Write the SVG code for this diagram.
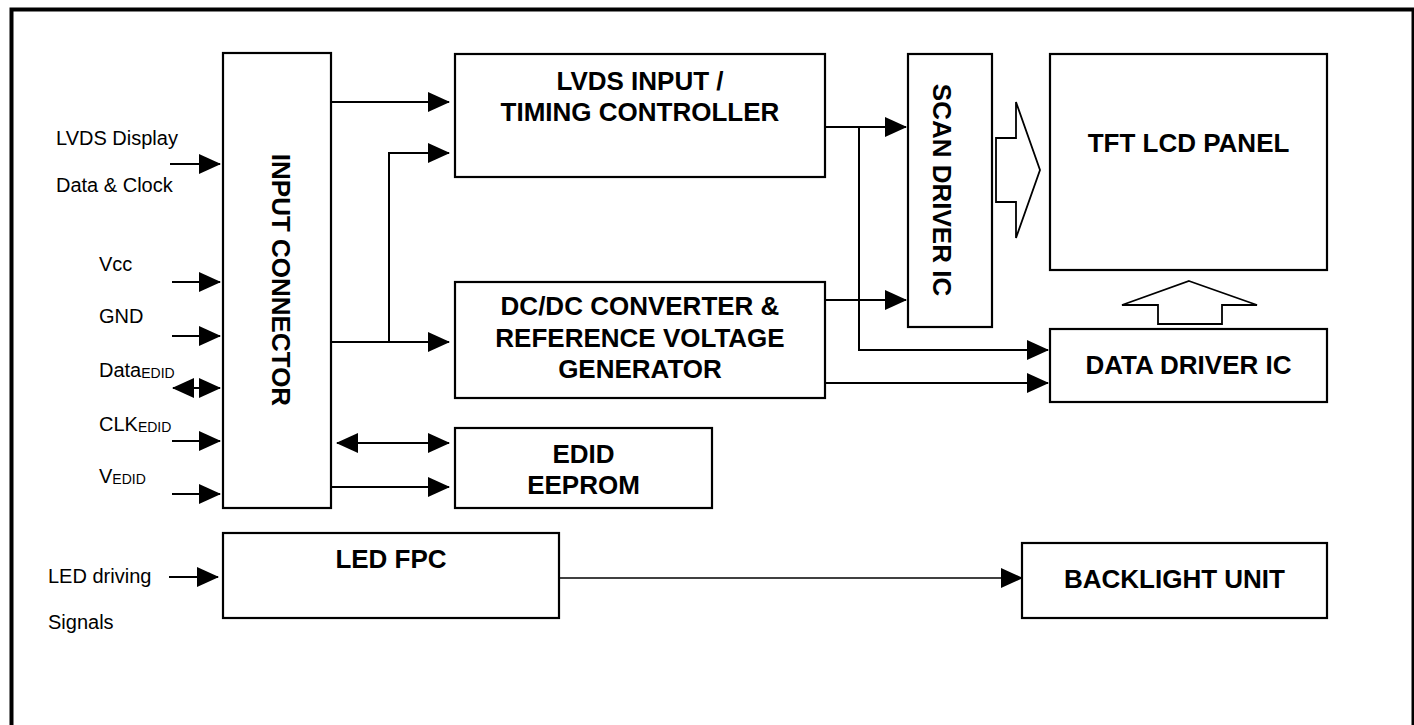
<svg xmlns="http://www.w3.org/2000/svg" width="1414" height="725" viewBox="0 0 1414 725">
<style>
.box{fill:#fff;stroke:#000;stroke-width:2.2}
.b{font-family:"Liberation Sans",Arial,sans-serif;font-weight:bold;font-size:26px;fill:#000;text-anchor:middle}
.r{font-family:"Liberation Sans",Arial,sans-serif;font-size:20px;fill:#000}
.sub{font-size:14px}
.ln{fill:none;stroke:#000;stroke-width:2}
.thin{fill:none;stroke:#000;stroke-width:1.5}
.ar{marker-end:url(#ah)}
.da{marker-start:url(#ah);marker-end:url(#ah)}
.hollow{fill:#fff;stroke:#000;stroke-width:1.8;stroke-linejoin:miter}
</style>
<defs>
<marker id="ah" markerUnits="userSpaceOnUse" markerWidth="22" markerHeight="20" refX="21" refY="10" orient="auto-start-reverse">
<path d="M0,0 L22,10 L0,20 Z" fill="#000"/>
</marker>
</defs>
<rect width="1414" height="725" fill="#fff"/>
<rect x="11.5" y="9.5" width="1402" height="740" fill="none" stroke="#000" stroke-width="4"/>

<g id="input-labels">
<text class="r" x="56" y="145">LVDS Display</text>
<text class="r" x="56" y="192">Data &amp; Clock</text>
<text class="r" x="99" y="271">Vcc</text>
<text class="r" x="99" y="323">GND</text>
<text class="r" x="99" y="377">Data<tspan class="sub" dy="1">EDID</tspan></text>
<text class="r" x="99" y="431">CLK<tspan class="sub" dy="1">EDID</tspan></text>
<text class="r" x="99" y="483">V<tspan class="sub" dy="1">EDID</tspan></text>
<text class="r" x="48" y="583">LED driving</text>
<text class="r" x="48" y="629">Signals</text>
</g>

<g id="input-connector">
<rect class="box" x="223" y="53" width="108" height="455"/>
<text class="b" transform="translate(272,280) rotate(90)">INPUT CONNECTOR</text>
</g>

<g id="lvds-timing">
<rect class="box" x="455" y="54" width="370" height="123"/>
<text class="b" x="640" y="90">LVDS INPUT /</text>
<text class="b" x="640" y="121">TIMING CONTROLLER</text>
</g>

<g id="dcdc">
<rect class="box" x="455" y="282" width="370" height="116"/>
<text class="b" x="640" y="315">DC/DC CONVERTER &amp;</text>
<text class="b" x="640" y="347">REFERENCE VOLTAGE</text>
<text class="b" x="640" y="378">GENERATOR</text>
</g>

<g id="edid-eeprom">
<rect class="box" x="455" y="428" width="257" height="80"/>
<text class="b" x="583.5" y="463">EDID</text>
<text class="b" x="583.5" y="494">EEPROM</text>
</g>

<g id="led-fpc">
<rect class="box" x="223" y="533" width="336" height="85"/>
<text class="b" x="391" y="568">LED FPC</text>
</g>

<g id="scan-driver">
<rect class="box" x="908" y="54" width="84" height="273"/>
<text class="b" transform="translate(933,190) rotate(90)">SCAN DRIVER IC</text>
</g>

<g id="tft-panel">
<rect class="box" x="1050" y="54" width="277" height="216"/>
<text class="b" x="1188.5" y="152">TFT LCD PANEL</text>
</g>

<g id="data-driver">
<rect class="box" x="1050" y="329" width="277" height="73"/>
<text class="b" x="1188.5" y="374">DATA DRIVER IC</text>
</g>

<g id="backlight">
<rect class="box" x="1022" y="543" width="305" height="75"/>
<text class="b" x="1174.5" y="588">BACKLIGHT UNIT</text>
</g>

<g id="connectors">
<line class="ln ar" x1="170" y1="164" x2="220" y2="164"/>
<line class="ln ar" x1="172" y1="282" x2="220" y2="282"/>
<line class="ln ar" x1="172" y1="336" x2="220" y2="336"/>
<line class="ln da" x1="173" y1="388" x2="220" y2="388"/>
<line class="ln ar" x1="172" y1="441" x2="220" y2="441"/>
<line class="ln ar" x1="172" y1="494" x2="220" y2="494"/>
<line class="ln ar" x1="169" y1="577" x2="218" y2="577"/>

<line class="ln ar" x1="331" y1="102" x2="449" y2="102"/>
<polyline class="ln ar" points="331,342 389,342 389,153 449,153"/>
<line class="ln ar" x1="389" y1="342" x2="449" y2="342"/>
<line class="ln da" x1="337" y1="443" x2="449" y2="443"/>
<line class="ln ar" x1="331" y1="487" x2="449" y2="487"/>

<line class="ln ar" x1="825" y1="127" x2="906" y2="127"/>
<polyline class="ln ar" points="859,127 859,350 1048,350"/>
<line class="ln ar" x1="825" y1="300" x2="906" y2="300"/>
<line class="ln ar" x1="825" y1="383" x2="1048" y2="383"/>

<line class="thin ar" x1="559" y1="578" x2="1022" y2="578"/>

<polygon class="hollow" points="996,138 1016,138 1016,102 1040,170 1016,238 1016,202 996,202"/>
<polygon class="hollow" points="1189,281 1257,305 1222,305 1222,324 1158,324 1158,305 1122,305"/>
</g>
</svg>
